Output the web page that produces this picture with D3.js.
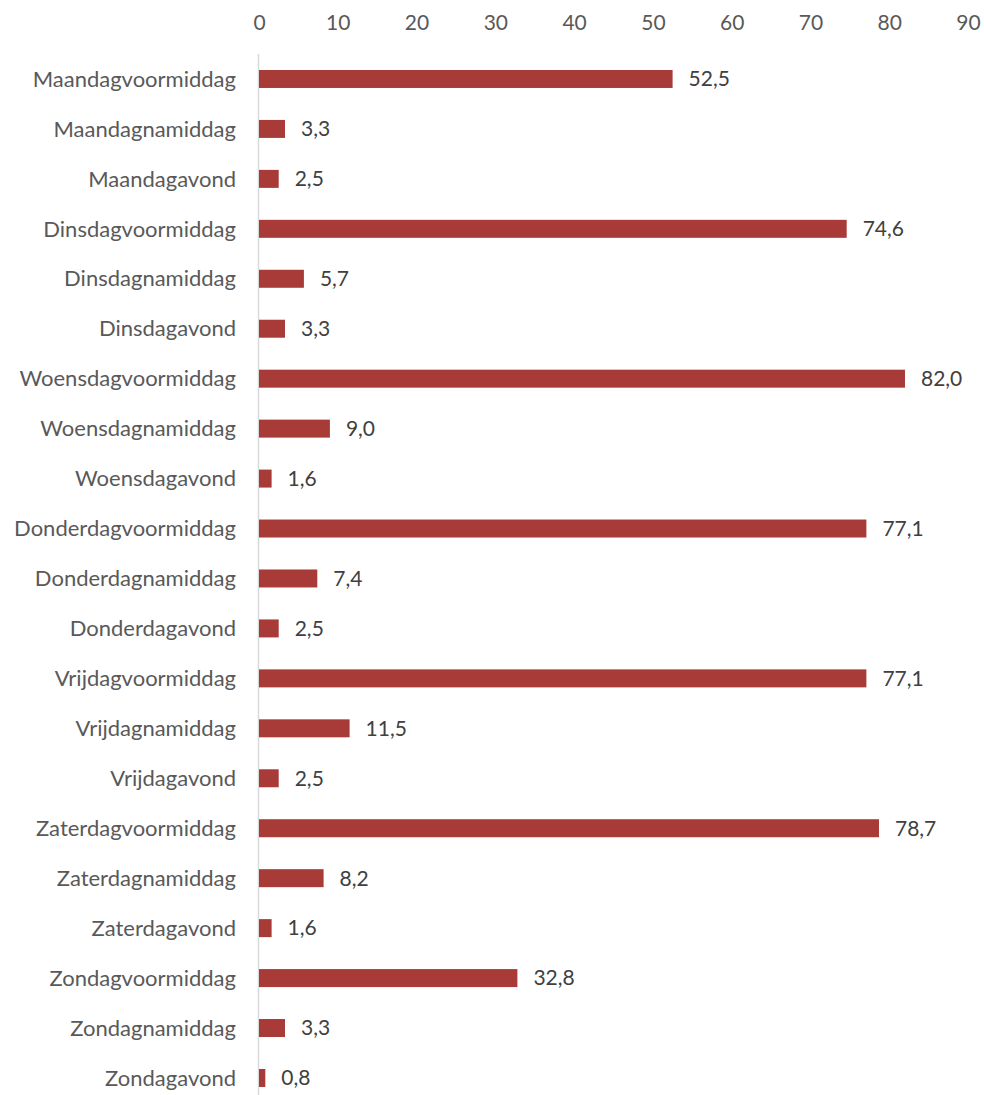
<!DOCTYPE html>
<html>
<head>
<meta charset="utf-8">
<script src="https://cdn.jsdelivr.net/npm/d3@7"></script>
<style>
  html, body { margin: 0; padding: 0; background: #fff; }
  svg text { font-family: Lato, "Open Sans", sans-serif; }
</style>
</head>
<body>
<svg id="chart" width="984" height="1095"></svg>
<script>
const categories = [
  "Maandagvoormiddag", "Maandagnamiddag", "Maandagavond",
  "Dinsdagvoormiddag", "Dinsdagnamiddag", "Dinsdagavond",
  "Woensdagvoormiddag", "Woensdagnamiddag", "Woensdagavond",
  "Donderdagvoormiddag", "Donderdagnamiddag", "Donderdagavond",
  "Vrijdagvoormiddag", "Vrijdagnamiddag", "Vrijdagavond",
  "Zaterdagvoormiddag", "Zaterdagnamiddag", "Zaterdagavond",
  "Zondagvoormiddag", "Zondagnamiddag", "Zondagavond"
];
const values = [
  52.5, 3.3, 2.5,
  74.6, 5.7, 3.3,
  82.0, 9.0, 1.6,
  77.1, 7.4, 2.5,
  77.1, 11.5, 2.5,
  78.7, 8.2, 1.6,
  32.8, 3.3, 0.8
];
const tickValues = [0, 10, 20, 30, 40, 50, 60, 70, 80, 90];

const svg = d3.select("#chart");
const plotLeft = 259, plotRight = 968, plotTop = 54, rowStep = 49.95;
const fontSize = 21, categoryFontSize = 22;

const x = d3.scaleLinear().domain([0, 90]).range([plotLeft, plotRight]);
const y = d3.scaleBand()
  .domain(categories)
  .range([plotTop, plotTop + rowStep * categories.length])
  .paddingInner(0.64)
  .paddingOuter(0.32);

// top value axis: labels only
const xAxis = d3.axisTop(x).tickValues(tickValues).tickSize(0).tickPadding(0)
  .tickFormat(d3.format("d"));
svg.append("g")
  .attr("transform", "translate(0,30)")
  .call(xAxis)
  .call(g => g.select(".domain").remove())
  .call(g => g.selectAll("text")
    .attr("fill", "#595959")
    .attr("font-size", fontSize)
    .attr("font-family", "Lato, 'Open Sans', sans-serif"));

// category axis line
svg.append("line")
  .attr("x1", x(0) - 0.5).attr("x2", x(0) - 0.5)
  .attr("y1", plotTop).attr("y2", 1095)
  .attr("stroke", "#d9d9d9").attr("stroke-width", 1.5);

// category labels
svg.append("g").selectAll("text")
  .data(categories)
  .join("text")
  .attr("x", 236)
  .attr("y", d => y(d) + y.bandwidth() / 2)
  .attr("dy", "0.35em")
  .attr("text-anchor", "end")
  .attr("fill", "#595959")
  .attr("font-size", categoryFontSize)
  .text(d => d);

// bars
svg.append("g").selectAll("rect")
  .data(values)
  .join("rect")
  .attr("x", x(0))
  .attr("y", (d, i) => y(categories[i]))
  .attr("width", d => x(d) - x(0))
  .attr("height", y.bandwidth())
  .attr("fill", "#a83a38");

// value labels
const fmt = d => d3.format(".1f")(d).replace(".", ",");
svg.append("g").selectAll("text")
  .data(values)
  .join("text")
  .attr("x", d => x(d) + 16)
  .attr("y", (d, i) => y(categories[i]) + y.bandwidth() / 2)
  .attr("dy", "0.35em")
  .attr("fill", "#404040")
  .attr("font-size", fontSize)
  .text(fmt);
</script>
</body>
</html>
